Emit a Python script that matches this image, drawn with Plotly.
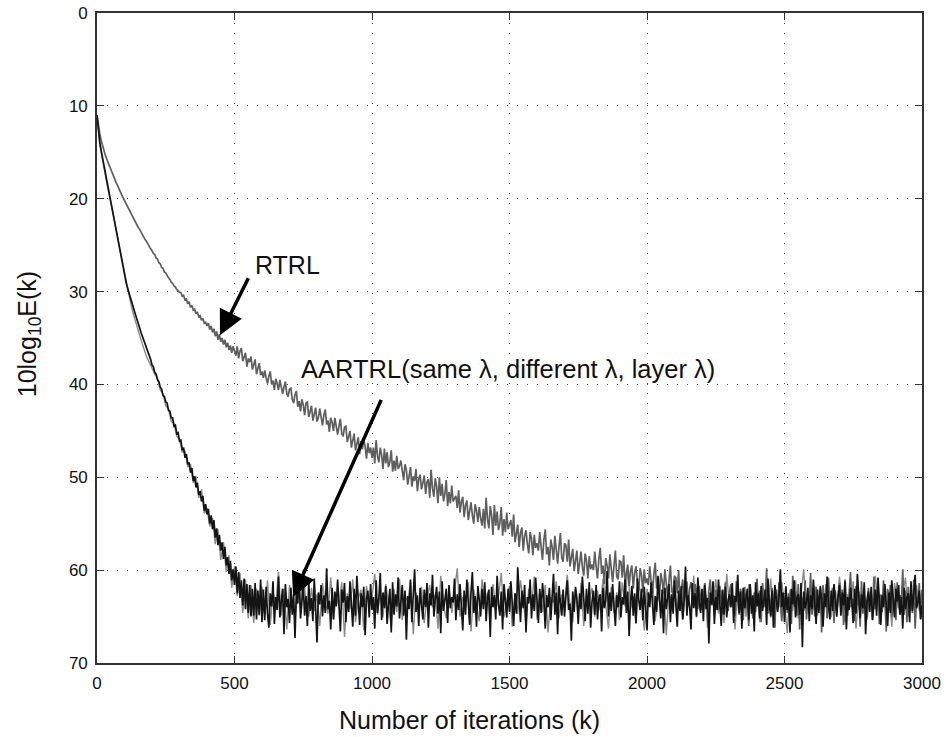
import plotly.graph_objects as go

# iteration grids (k)
k_fine = list(range(0, 3001, 5))
k_coarse = list(range(0, 3001, 10))

# RTRL, 10log10E(k) read at k = 0, 5, 10, ..., 3000
rtrl = [
    11.0, 12.2, 13.0, 13.7, 14.3, 14.8, 15.3, 15.7, 16.1, 16.5, 16.9, 17.2, 17.6, 17.9, 18.3, 18.6, 19.0, 19.3, 19.6, 19.9, 20.2,
    20.5, 20.8, 21.1, 21.4, 21.7, 22.0, 22.2, 22.5, 22.8, 23.1, 23.3, 23.6, 23.9, 24.1, 24.4, 24.6, 24.9, 25.1, 25.4, 25.6,
    25.9, 26.0, 26.4, 26.5, 26.9, 27.0, 27.4, 27.5, 27.9, 28.0, 28.3, 28.5, 28.7, 29.0, 29.1, 29.4, 29.5, 29.8, 29.9, 30.1,
    30.1, 30.5, 30.4, 30.9, 30.8, 31.3, 31.1, 31.7, 31.5, 32.0, 31.9, 32.4, 32.2, 32.7, 32.6, 33.1, 32.9, 33.4, 33.3, 33.7,
    33.4, 34.1, 33.7, 34.4, 34.0, 34.8, 34.3, 35.2, 34.6, 35.4, 35.0, 35.7, 35.2, 36.0, 35.5, 36.3, 35.8, 36.6, 35.9, 36.5,
    36.9, 35.9, 37.2, 36.4, 36.1, 37.5, 37.0, 36.6, 38.1, 37.2, 37.6, 37.0, 38.4, 37.8, 37.3, 38.9, 38.2, 37.7, 39.0, 38.6,
    39.3, 38.5, 39.3, 39.9, 39.1, 38.6, 40.0, 39.6, 40.6, 39.4, 39.9, 40.6, 39.5, 40.5, 41.0, 40.3, 39.7, 41.0, 41.3, 40.5,
    40.4, 41.6, 42.0, 41.1, 40.7, 42.4, 41.8, 42.9, 41.6, 42.2, 43.3, 42.0, 41.9, 43.5, 42.7, 42.3, 43.9, 43.0, 42.5, 44.0,
    43.6, 42.6, 43.6, 44.4, 43.3, 42.7, 44.3, 43.9, 45.1, 43.6, 44.1, 45.0, 43.6, 44.8, 45.4, 44.5, 43.7, 45.3, 45.6, 44.6,
    44.5, 46.2, 45.6, 45.0, 46.8, 46.0, 45.3, 47.1, 46.4, 45.7, 47.5, 46.1, 47.0, 45.9, 46.7, 48.0, 46.3, 47.4, 46.8, 47.9,
    46.8, 48.5, 46.0, 47.7, 48.4, 46.8, 47.6, 49.1, 46.9, 48.5, 47.3, 48.9, 48.3, 47.1, 49.4, 48.2, 49.3, 47.7, 49.1, 48.8,
    48.2, 49.5, 50.3, 48.6, 49.2, 50.8, 49.6, 48.9, 51.0, 49.9, 50.4, 49.1, 51.5, 50.2, 49.7, 51.3, 50.6, 49.8, 51.8, 50.5,
    50.2, 52.2, 49.2, 51.2, 52.1, 50.1, 51.0, 52.8, 50.0, 52.0, 50.7, 52.6, 51.8, 50.3, 53.1, 51.6, 52.8, 50.9, 52.6, 52.2,
    52.0, 53.3, 51.4, 53.8, 52.6, 52.1, 54.3, 53.0, 52.5, 54.6, 53.3, 52.7, 54.1, 55.0, 52.9, 53.6, 54.8, 53.2, 54.4, 55.2,
    53.4, 55.5, 52.2, 54.5, 55.5, 53.1, 54.1, 56.2, 53.0, 55.2, 53.7, 55.7, 54.9, 53.2, 56.3, 54.5, 55.9, 53.8, 55.6, 55.2,
    54.6, 56.4, 54.0, 57.0, 55.8, 55.1, 57.5, 56.0, 55.4, 57.9, 56.3, 55.7, 57.2, 58.2, 55.9, 56.6, 58.4, 56.2, 57.6, 57.1,
    57.9, 55.9, 57.5, 58.9, 56.7, 55.6, 58.3, 57.5, 59.5, 56.7, 57.5, 58.9, 56.3, 58.3, 59.3, 57.5, 56.0, 58.7, 59.1, 57.1,
    57.3, 59.1, 56.7, 59.6, 58.4, 57.7, 60.1, 58.6, 57.9, 60.4, 58.8, 58.0, 59.7, 60.6, 58.2, 59.0, 60.9, 58.5, 59.9, 59.4,
    60.0, 58.0, 59.6, 60.9, 58.8, 57.6, 60.4, 59.5, 61.5, 58.7, 59.5, 60.9, 58.3, 60.3, 61.3, 59.5, 57.9, 60.7, 61.0, 59.0,
    59.1, 60.8, 58.4, 61.3, 60.0, 59.4, 61.7, 60.1, 59.5, 62.0, 60.3, 59.6, 61.2, 62.2, 59.8, 60.5, 62.4, 59.9, 61.4, 60.9,
    61.6, 59.6, 61.2, 62.5, 60.4, 59.2, 62.0, 61.1, 63.1, 60.3, 61.1, 62.5, 59.9, 61.9, 62.9, 61.1, 59.5, 62.3, 62.6, 60.6,
    60.8, 62.5, 60.0, 63.1, 61.7, 61.0, 63.4, 61.9, 61.2, 63.8, 62.0, 61.3, 62.9, 64.0, 61.5, 62.3, 64.2, 61.7, 63.2, 62.7,
    63.4, 61.4, 63.0, 64.3, 62.2, 61.0, 63.8, 62.9, 64.9, 62.1, 62.9, 64.3, 61.7, 63.7, 64.7, 62.9, 61.3, 64.1, 64.4, 62.4,
    61.5, 63.9, 62.7, 65.0, 61.2, 63.4, 64.8, 62.0, 63.1, 65.4, 61.8, 64.2, 62.9, 66.0, 61.6, 63.6, 65.2, 62.4, 64.5, 60.9,
    63.8, 62.2, 65.6, 61.4, 64.0, 63.0, 59.8, 64.7, 62.6, 65.1, 61.9, 63.5, 66.2, 62.1, 64.3, 61.3, 63.7, 65.5, 62.8, 64.1,
    61.7, 64.6, 62.5, 63.3, 65.8, 60.6, 63.9, 62.3, 64.9, 61.5, 66.4, 62.7, 63.2, 64.4, 61.1, 65.3, 62.9, 63.6, 60.3, 64.8,
    62.4, 65.0, 61.8, 63.5, 64.2, 62.0, 66.7, 61.6, 63.9, 62.6, 65.2, 60.8, 64.1, 63.0, 61.9, 65.7, 62.2, 64.6, 63.3, 61.4,
    64.4, 62.1, 65.9, 61.0, 63.6, 64.9, 62.5, 60.2, 64.0, 63.1, 65.5, 61.7, 63.8, 62.3, 66.1, 61.2, 64.7, 62.8, 63.4, 65.1,
    61.9, 63.7, 62.4, 65.3, 60.7, 64.2, 63.0, 61.5, 65.8, 62.6, 64.5, 61.1, 63.2, 66.6, 62.0, 64.0, 61.6, 65.0, 62.9, 63.5,
    65.4, 61.3, 64.1, 62.7, 63.4, 59.9, 64.8, 62.2, 65.6, 61.8, 63.9, 62.5, 64.6, 61.0, 66.3, 62.9, 63.6, 61.4, 65.2, 62.1,
]

# AARTRL (same lambda), read at k = 0, 5, 10, ..., 3000
aartrl_same = [
    11.0, 12.8, 13.9, 14.8, 15.6, 16.4, 17.2, 18.0, 18.8, 19.5, 20.2, 21.0, 21.8, 22.6, 23.4, 24.2, 25.0, 25.8, 26.6, 27.3, 28.1,
    28.9, 29.5, 29.9, 30.5, 31.0, 31.4, 32.0, 32.5, 32.9, 33.5, 33.9, 34.4, 34.8, 35.3, 35.6, 36.1, 36.6, 37.0, 37.3, 37.9,
    38.1, 38.7, 38.9, 39.5, 39.7, 40.3, 40.5, 41.2, 41.3, 41.9, 42.0, 42.8, 42.9, 43.6, 43.6, 44.5, 44.4, 45.3, 45.2, 46.1,
    46.0, 47.1, 46.8, 47.9, 47.5, 48.6, 48.4, 49.5, 49.0, 50.4, 49.9, 51.1, 50.6, 51.9, 51.5, 52.6, 52.0, 53.6, 52.9, 54.0,
    53.4, 55.0, 54.1, 55.6, 54.6, 56.5, 55.5, 57.3, 56.2, 57.9, 57.0, 58.8, 57.5, 59.5, 58.6, 60.4, 59.0, 61.1, 59.9, 61.6,
    59.6, 62.5, 60.2, 63.0, 61.1, 63.8, 60.9, 64.2, 61.5, 64.6, 61.6, 65.0, 62.0, 64.9, 61.4, 65.3, 62.2, 64.8, 61.0, 65.6,
    62.1, 65.4, 61.8, 64.7, 66.2, 62.5, 63.9, 61.2, 65.8, 62.9, 64.3, 60.7, 65.1, 63.4, 62.0, 66.9, 61.5, 64.0, 63.1, 65.7,
    61.9, 64.8, 62.6, 67.3, 62.2, 63.6, 60.4, 65.2, 63.8, 61.7, 64.9, 62.8, 66.0, 61.3, 64.4, 63.0, 65.5, 60.9, 64.1, 67.8,
    62.4, 63.7, 61.6, 65.0, 62.7, 64.6, 59.8, 64.2, 63.3, 66.4, 61.9, 65.3, 62.3, 63.9, 61.0, 64.7, 66.6, 62.1, 63.5, 61.4,
    65.6, 62.8, 64.5, 61.2, 63.8, 66.1, 62.0, 64.9, 60.6, 63.2, 65.9, 62.5, 64.0, 61.8, 67.0, 63.1, 62.2, 65.1, 61.5, 64.3,
    62.9, 66.3, 61.1, 64.6, 63.0, 60.3, 65.4, 62.4, 64.1, 61.7, 65.8, 63.6, 62.0, 66.7, 61.3, 64.8, 62.6, 63.9, 60.8, 65.2,
    63.4, 61.6, 64.9, 62.2, 67.5, 62.8, 64.2, 61.0, 65.6, 63.3, 59.9, 64.5, 62.7, 66.0, 61.9, 63.7, 65.3, 62.1, 64.0, 61.4,
    66.2, 62.5, 63.8, 60.5, 65.0, 63.1, 61.8, 64.7, 62.3, 66.8, 61.2, 64.4, 63.0, 62.0, 65.7, 61.6, 64.1, 62.9, 63.5, 60.9,
    65.4, 62.6, 64.3, 61.5, 63.9, 66.5, 62.2, 64.8, 61.0, 63.6, 65.9, 62.4, 60.2, 64.6, 62.8, 66.1, 61.7, 63.2, 65.0, 62.0,
    64.2, 61.3, 65.5, 63.0, 62.1, 67.2, 61.8, 64.0, 62.7, 65.3, 60.6, 63.7, 64.9, 62.3, 66.4, 61.5, 63.4, 65.1, 62.0, 64.5,
    61.2, 63.9, 66.0, 62.5, 64.7, 59.7, 63.3, 65.6, 62.2, 64.1, 61.6, 66.7, 62.9, 63.6, 61.0, 65.2, 62.6, 64.4, 60.8, 63.8,
    65.7, 62.0, 64.6, 61.4, 63.1, 66.3, 62.7, 64.0, 61.9, 65.4, 63.2, 60.4, 64.8, 62.4, 66.9, 61.7, 63.5, 64.9, 62.1, 65.0,
    62.8, 61.1, 64.3, 63.6, 67.6, 62.3, 64.5, 61.8, 63.0, 65.8, 62.5, 64.2, 60.7, 63.9, 65.5, 62.0, 64.7, 61.3, 66.2, 63.4,
    62.2, 64.8, 61.6, 65.3, 63.1, 62.6, 66.6, 61.9, 64.1, 63.3, 60.1, 65.0, 62.4, 64.4, 61.5, 63.8, 66.0, 62.7, 64.0, 61.2,
    65.1, 62.9, 63.7, 61.0, 64.6, 62.3, 67.1, 63.5, 61.7, 64.9, 62.5, 65.7, 60.9, 63.2, 64.3, 62.0, 65.4, 61.8, 63.9, 66.5,
    62.4, 64.0, 61.3, 63.6, 65.9, 62.8, 64.5, 60.6, 63.1, 65.2, 62.1, 66.8, 61.9, 64.2, 63.0, 61.5, 65.6, 62.6, 64.7, 61.1,
    63.8, 66.1, 62.2, 64.4, 61.7, 65.3, 63.3, 59.6, 64.9, 62.7, 63.9, 66.4, 61.4, 64.1, 62.5, 65.0, 60.8, 63.5, 64.6, 62.0,
    65.5, 61.6, 64.2, 63.0, 67.9, 62.4, 63.7, 61.2, 65.8, 62.9, 64.3, 61.0, 63.6, 66.0, 62.1, 64.8, 61.8, 65.1, 63.2, 62.6,
    64.0, 61.4, 65.7, 62.8, 63.4, 60.5, 64.6, 62.3, 66.3, 61.9, 64.1, 63.1, 62.0, 65.4, 61.5, 64.7, 62.7, 66.6, 61.3, 63.9,
    62.5, 65.2, 61.7, 64.4, 63.2, 62.1, 65.9, 60.9, 63.8, 64.9, 62.2, 66.2, 61.6, 63.5, 64.5, 62.8, 59.9, 64.0, 62.4, 65.6,
    61.8, 64.3, 62.9, 66.7, 62.0, 63.7, 61.1, 65.1, 63.0, 62.6, 64.8, 61.4, 68.3, 62.3, 64.1, 63.4, 61.9, 65.5, 62.7, 64.2,
    61.0, 63.6, 65.8, 62.1, 64.6, 61.7, 63.1, 66.1, 62.5, 64.0, 60.7, 63.9, 65.3, 62.2, 64.4, 61.5, 63.3, 65.0, 62.8, 61.6,
    64.9, 62.4, 63.8, 61.2, 66.4, 62.9, 64.3, 61.9, 63.5, 65.7, 62.0, 64.7, 60.4, 63.0, 65.2, 62.6, 64.1, 61.3, 66.9, 63.2,
    62.3, 64.5, 61.8, 65.4, 63.6, 62.1, 64.9, 60.8, 63.3, 65.9, 62.7, 64.0, 61.5, 63.9, 66.0, 62.4, 64.6, 61.1, 63.7, 65.1,
    62.0, 63.4, 61.6, 64.8, 62.9, 66.3, 61.9, 64.2, 63.0, 62.5, 65.6, 61.2, 64.4, 62.8, 60.5, 64.1, 63.5, 62.2, 65.3, 63.8,
]

# AARTRL (layer lambda), read at k = 0, 10, 20, ..., 3000
aartrl_layer = [
    11.0, 14.1, 15.8, 17.5, 19.0, 20.4, 21.9, 23.5, 25.1, 26.7, 28.3,
    29.6, 30.9, 32.2, 33.3, 34.3, 35.2, 36.1, 37.0, 37.6, 38.2,
    38.9, 39.3, 40.6, 41.0, 42.3, 42.6, 44.0, 44.2, 45.6, 45.9,
    47.3, 47.2, 48.9, 48.6, 50.6, 49.9, 52.2, 51.3, 53.9, 53.3,
    55.3, 54.4, 57.2, 55.6, 58.9, 57.0, 60.2, 58.4, 61.9, 59.6,
    62.8, 60.3, 64.6, 61.0, 65.2, 61.6, 65.7, 62.0, 64.9, 61.8,
    64.6, 61.1, 65.9, 62.4, 63.7, 60.2, 64.9, 62.0, 66.4, 61.6, 63.3, 65.5, 62.2, 64.1, 59.9, 63.8, 65.0, 61.9, 64.4, 62.6,
    66.0, 61.4, 63.5, 64.7, 60.8, 65.3, 62.8, 63.9, 61.3, 67.2, 62.5, 64.2, 61.0, 65.6, 63.1, 62.1, 66.5, 61.7, 64.0, 62.9,
    60.4, 64.8, 62.3, 65.1, 61.5, 63.6, 66.2, 62.0, 64.5, 60.9, 65.4, 62.7, 63.4, 61.2, 66.9, 62.4, 64.3, 61.8, 65.7, 63.0,
    61.6, 64.0, 62.6, 66.3, 60.6, 63.9, 65.2, 61.9, 64.6, 62.2, 59.8, 65.0, 62.9, 64.2, 61.3, 66.6, 62.1, 63.7, 65.5, 61.0,
    63.6, 62.4, 65.8, 61.5, 64.3, 62.8, 60.3, 65.1, 63.2, 61.7, 66.1, 62.5, 64.7, 61.1, 63.4, 65.9, 62.0, 64.0, 60.7, 65.3,
    62.3, 64.5, 61.6, 66.7, 62.9, 63.5, 61.2, 65.2, 62.6, 64.1, 60.5, 63.8, 65.6, 62.1, 64.9, 61.4, 66.0, 62.7, 63.3, 61.9,
    65.0, 62.2, 64.4, 60.9, 63.7, 66.3, 61.8, 64.6, 62.4, 65.4, 61.3, 63.9, 59.7, 64.2, 62.8, 65.8, 61.5, 63.2, 66.5, 62.0,
    63.8, 61.2, 65.5, 62.7, 64.0, 61.7, 67.0, 62.5, 63.6, 60.8, 64.8, 62.1, 65.3, 61.9, 63.5, 64.6, 60.6, 65.1, 62.3, 64.3,
    61.4, 66.2, 62.9, 63.4, 61.0, 64.7, 62.2, 65.7, 60.4, 63.9, 62.6, 66.4, 61.8, 64.1, 62.0, 65.0, 61.5, 63.7, 64.9, 62.4,
    65.6, 61.6, 63.3, 64.5, 60.9, 65.9, 62.8, 64.0, 61.3, 63.6, 66.8, 62.1, 64.4, 61.1, 65.2, 62.5, 59.9, 64.7, 62.9, 63.8,
    61.7, 64.9, 62.3, 66.0, 61.5, 63.4, 65.1, 62.0, 64.3, 60.7, 63.9, 65.6, 62.6, 64.0, 61.2, 66.3, 62.4, 63.5, 61.8, 65.4,
    62.7, 64.2, 60.6, 63.8, 65.7, 61.9, 64.6, 62.2, 66.1, 61.4, 63.2, 64.8, 62.5, 60.8, 65.0, 62.9, 63.6, 61.6, 64.4, 63.0,
]

x_ticks = [0, 500, 1000, 1500, 2000, 2500, 3000]
y_ticks = [0, 10, 20, 30, 40, 50, 60, 70]

assert len(rtrl) == len(k_fine), len(rtrl)
assert len(aartrl_same) == len(k_fine), len(aartrl_same)
assert len(aartrl_layer) == len(k_coarse), len(aartrl_layer)

FONT = "Liberation Sans, Arial, Helvetica, sans-serif"

fig = go.Figure()
fig.add_trace(go.Scatter(x=k_coarse, y=aartrl_layer, mode="lines",
                         line=dict(color="#8a8a8a", width=1.4), name="AARTRL (layer λ)"))
fig.add_trace(go.Scatter(x=k_fine, y=rtrl, mode="lines",
                         line=dict(color="#5e5e5e", width=1.7), name="RTRL"))
fig.add_trace(go.Scatter(x=k_fine, y=aartrl_same, mode="lines",
                         line=dict(color="#141414", width=1.7), name="AARTRL (same λ)"))

axis_common = dict(
    showline=True, linecolor="#333333", linewidth=1.6, mirror="ticks",
    ticks="inside", ticklen=7, tickwidth=1.2, tickcolor="#333333",
    showgrid=True, gridcolor="#444444", gridwidth=1, griddash="1px,9px",
    zeroline=False, automargin=False,
    tickfont=dict(family=FONT, size=17, color="#111111"),
)

fig.update_layout(
    width=946, height=737,
    margin=dict(l=97, r=24, t=13, b=74),
    paper_bgcolor="white", plot_bgcolor="white",
    showlegend=False,
    font=dict(family=FONT, color="#111111"),
    xaxis=dict(range=[0, 3000], tickvals=x_ticks, ticklabelstandoff=4, **axis_common),
    yaxis=dict(range=[70, 0], tickvals=y_ticks, ticklabelstandoff=4, **axis_common),
    annotations=[
        dict(text="Number of iterations (k)", xref="paper", yref="paper", x=0.451, y=-0.088,
             showarrow=False, font=dict(size=25, family=FONT), xanchor="center", yanchor="middle"),
        dict(text="10log<sub>10</sub>E(k)", xref="paper", yref="paper", x=-0.083, y=0.505,
             showarrow=False, textangle=-90, font=dict(size=25, family=FONT), xanchor="center", yanchor="middle"),
        dict(text="RTRL", x=691, y=27.1, xref="x", yref="y", showarrow=False,
             font=dict(size=25, family=FONT), xanchor="center", yanchor="middle"),
        dict(text="AARTRL(same λ, different λ, layer λ)", x=1493, y=38.3, xref="x", yref="y", showarrow=False,
             font=dict(size=25.5, family=FONT), xanchor="center", yanchor="middle"),
        dict(text="", x=447, y=34.7, ax=553, ay=28.4, xref="x", yref="y", axref="x", ayref="y",
             showarrow=True, arrowhead=2, arrowsize=1.4, arrowwidth=3.5, arrowcolor="#000000", standoff=0),
        dict(text="", x=713, y=62.9, ax=1036, ay=41.5, xref="x", yref="y", axref="x", ayref="y",
             showarrow=True, arrowhead=2, arrowsize=1.4, arrowwidth=3.5, arrowcolor="#000000", standoff=0),
    ],
)

# the page's default 8px body margin would shift the figure; remove it
fig.write_html("out.html", config={"displayModeBar": False},
               post_script="document.body.style.margin='0px';")
